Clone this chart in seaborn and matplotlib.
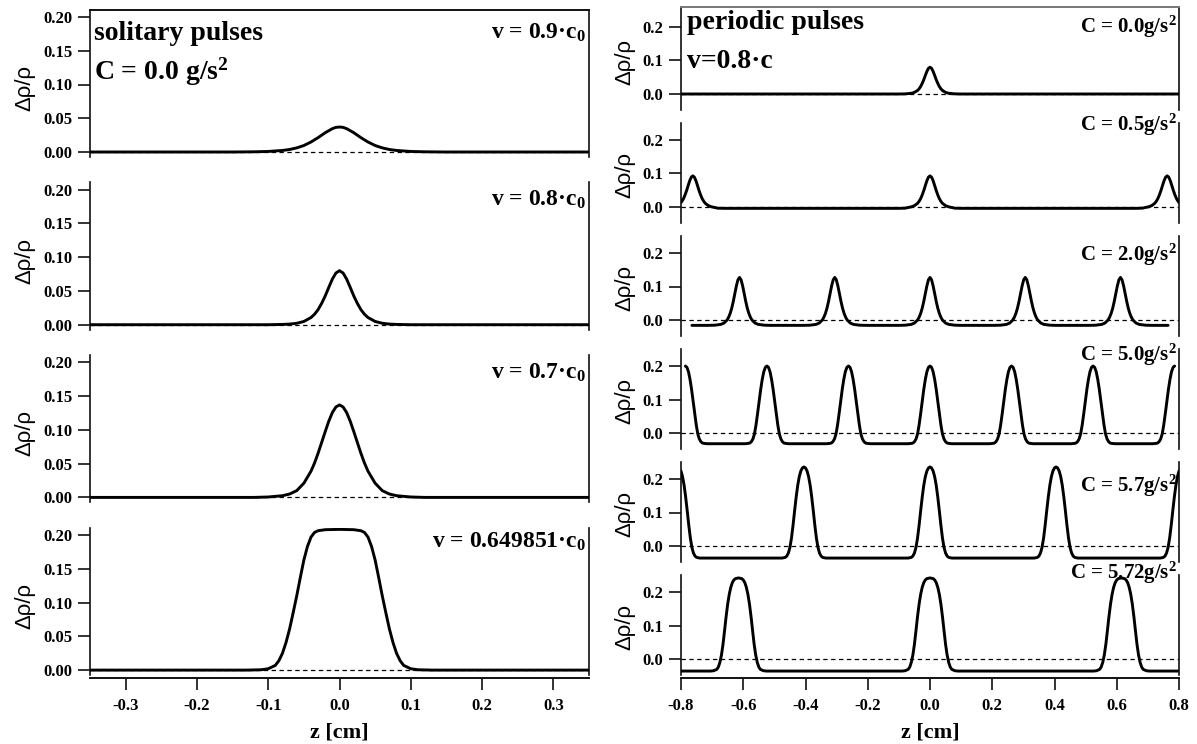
import numpy as np
import matplotlib
matplotlib.use("Agg")
import matplotlib.pyplot as plt
import seaborn as sns

# ---------------- solitary pulses (left column), half profiles -------------
sol_labels = ["v = 0.9·c$_0$", "v = 0.8·c$_0$", "v = 0.7·c$_0$", "v = 0.649851·c$_0$"]
sol_dz_09 = [0, .005, .01, .02, .03, .04, .05, .06, .07, .08, .10, .12, .15]
sol_val_09 = [0.037, 0.0365, 0.0346, 0.0286, 0.0213, 0.0148, 0.0096, 0.0061, 0.0037, 0.0023, 0.0008, 0.0003, 0.0]
sol_dz_08 = [0, .005, .01, .015, .02, .025, .03, .035, .04, .05, .06, .07, .08, .10]
sol_val_08 = [0.080, 0.0766, 0.0676, 0.0554, 0.0427, 0.0317, 0.0224, 0.0155, 0.0106, 0.0048, 0.0021, 0.0009, 0.0004, 0.0]
sol_dz_07 = [0, .005, .01, .015, .02, .025, .03, .035, .04, .05, .06, .07, .08, .10, .12]
sol_val_07 = [0.137, 0.134, 0.1257, 0.113, 0.0976, 0.0815, 0.0655, 0.051, 0.0388, 0.021, 0.010, 0.005, 0.0025,
              0.0006, 0.0]
sol_dz_065 = [0, .02, .03, .035, .04, .045, .05, .055, .06, .065, .07, .075, .08, .085, .09, .10, .11, .13]
sol_val_065 = [0.2085, 0.208, 0.2065, 0.204, 0.197, 0.183, 0.163, 0.137, 0.11, 0.085, 0.061, 0.041,
               0.025, 0.014, 0.007, 0.002, 0.0005, 0.0]
sol_xticks = [-0.3, -0.2, -0.1, 0.0, 0.1, 0.2, 0.3]
sol_xticklabels = ["-0.3", "-0.2", "-0.1", "0.0", "0.1", "0.2", "0.3"]
sol_yticks = [0.00, 0.05, 0.10, 0.15, 0.20]
sol_yticklabels = ["0.00", "0.05", "0.10", "0.15", "0.20"]

# ---------------- periodic pulses (right column) -------------
per_labels = ["C = 0.0g/s$^2$", "C = 0.5g/s$^2$", "C = 2.0g/s$^2$",
              "C = 5.0g/s$^2$", "C = 5.7g/s$^2$", "C = 5.72g/s$^2$"]
per_centres_00 = [0.0]
per_centres_05 = [-0.762, 0.0, 0.762]
per_centres_20 = [-0.612, -0.306, 0.0, 0.306, 0.612]
per_centres_50 = [-0.786, -0.524, -0.262, 0.0, 0.262, 0.524, 0.786]
per_centres_57 = [-0.81, -0.405, 0.0, 0.405, 0.81]
per_centres_572 = [-0.615, 0.0, 0.615]
per_span_00 = (-0.8, 0.8)
per_span_05 = (-0.8, 0.8)
per_span_20 = (-0.765, 0.765)
per_span_50 = (-0.786, 0.786)
per_span_57 = (-0.8, 0.8)
per_span_572 = (-0.8, 0.8)
per_dz_00 = [0, .005, .01, .015, .02, .025, .03, .035, .04, .05, .06, .08, .10]
per_val_00 = [0.080, 0.0766, 0.0676, 0.0554, 0.0427, 0.0317, 0.0224, 0.0155, 0.0106, 0.0048, 0.0021, 0.0004, 0.0]
per_dz_05 = [0, .005, .01, .015, .02, .025, .03, .035, .04, .05, .06, .08, .10]
per_val_05 = [0.093, 0.089, 0.0785, 0.064, 0.049, 0.036, 0.025, 0.017, 0.011, 0.004, 0.0005, -0.0035, -0.004]
per_dz_20 = [0, .005, .01, .015, .02, .025, .03, .035, .04, .05, .06, .08, .10]
per_val_20 = [0.127, 0.120, 0.102, 0.079, 0.0555, 0.0353, 0.0197, 0.0082, -0.0001, -0.0091, -0.0131, -0.0155, -0.016]
per_dz_50 = [0, .005, .01, .015, .02, .025, .03, .035, .04, .045, .05, .055, .06, .07, .08]
per_val_50 = [0.200, 0.196, 0.183, 0.160, 0.130, 0.095, 0.058, 0.024, -0.003, -0.018, -0.026, -0.030, -0.031,
              -0.032, -0.032]
per_dz_57 = [0, .005, .01, .015, .02, .025, .03, .035, .04, .045, .05, .055, .06, .07, .08]
per_val_57 = [0.236, 0.233, 0.224, 0.207, 0.181, 0.146, 0.105, 0.062, 0.024, -0.004, -0.021, -0.030, -0.034,
              -0.036, -0.036]
per_dz_572 = [0, .01, .015, .02, .025, .03, .035, .04, .045, .05, .055, .06, .065, .07, .08, .09]
per_val_572 = [0.242, 0.240, 0.236, 0.228, 0.214, 0.193, 0.164, 0.127, 0.085, 0.044, 0.012, -0.010, -0.024,
               -0.031, -0.035, -0.036]
per_xticks = [-0.8, -0.6, -0.4, -0.2, 0.0, 0.2, 0.4, 0.6, 0.8]
per_xticklabels = ["-0.8", "-0.6", "-0.4", "-0.2", "0.0", "0.2", "0.4", "0.6", "0.8"]
per_yticks = [0.0, 0.1, 0.2]
per_yticklabels = ["0.0", "0.1", "0.2"]

sol_sets = [(sol_dz_09, sol_val_09), (sol_dz_08, sol_val_08), (sol_dz_07, sol_val_07), (sol_dz_065, sol_val_065)]
per_sets = [(per_centres_00, per_dz_00, per_val_00, per_span_00),
            (per_centres_05, per_dz_05, per_val_05, per_span_05),
            (per_centres_20, per_dz_20, per_val_20, per_span_20),
            (per_centres_50, per_dz_50, per_val_50, per_span_50),
            (per_centres_57, per_dz_57, per_val_57, per_span_57),
            (per_centres_572, per_dz_572, per_val_572, per_span_572)]


def pulse_train(centres, dz, val, span):
    dz = np.asarray(dz, float)
    val = np.asarray(val, float)
    fx = np.concatenate([-dz[::-1], dz[1:]])
    fy = np.concatenate([val[::-1], val[1:]])
    xs = np.concatenate([c + fx for c in centres])
    ys = np.tile(fy, len(centres))
    order = np.argsort(xs, kind="stable")
    xs, ys = xs[order], ys[order]
    x0, x1 = span
    y0, y1 = np.interp([x0, x1], xs, ys)
    keep = (xs > x0) & (xs < x1)
    return np.r_[x0, xs[keep], x1], np.r_[y0, ys[keep], y1]


# ---------------- style -------------
sns.set_style("ticks")
plt.rcParams["font.family"] = ["Liberation Serif", "DejaVu Serif"]
plt.rcParams["font.weight"] = "bold"
plt.rcParams["text.color"] = "black"
plt.rcParams["axes.labelcolor"] = "black"
plt.rcParams["mathtext.fontset"] = "custom"
plt.rcParams["mathtext.rm"] = "Liberation Serif:bold"
plt.rcParams["mathtext.it"] = "Liberation Serif:italic:bold"
plt.rcParams["mathtext.bf"] = "Liberation Serif:bold"
plt.rcParams["mathtext.default"] = "rm"

W, H = 1197, 744
fig = plt.figure(figsize=(W / 100, H / 100), dpi=100)
fig.patch.set_facecolor("white")


def rect(l, t, w, h):
    return [l / W, 1 - (t + h) / H, w / W, h / H]


SPINE_C = "#111111"
TICK_FS = 12
LAB_FS = 16
LINE_W = 2.1


def style_axes(ax, first, last, top_color):
    for s in ["left", "right"]:
        ax.spines[s].set_visible(True)
        ax.spines[s].set_linewidth(1.2)
        ax.spines[s].set_color(SPINE_C)
    ax.spines["top"].set_visible(first)
    ax.spines["top"].set_linewidth(1.4)
    ax.spines["top"].set_color(top_color)
    ax.spines["bottom"].set_visible(last)
    ax.spines["bottom"].set_linewidth(1.4)
    ax.spines["bottom"].set_color(SPINE_C)
    ax.spines["bottom"].set_position(("outward", 2.2))
    ax.tick_params(axis="y", which="both", direction="out", length=8.6, width=1.2, pad=4,
                   labelsize=TICK_FS, color=SPINE_C, labelcolor="black", left=True, right=False)
    ax.tick_params(axis="x", which="both", direction="out", length=8.6, width=1.2, pad=6,
                   labelsize=TICK_FS, color=SPINE_C, labelcolor="black", bottom=last,
                   labelbottom=last, top=False)
    ax.set_facecolor("white")
    ax.grid(False)


# ---------------- left column -------------
L_LEFT, L_W = 90, 499
for i, (dz, val) in enumerate(sol_sets):
    zero = 152 + 172.7 * i
    ylo, yhi = -0.0074, 0.211
    top = zero - yhi * 675
    ax = fig.add_axes(rect(L_LEFT, top, L_W, (yhi - ylo) * 675))
    ax.axhline(0, color="black", lw=0.9, ls=(0, (3.5, 2.8)), zorder=1)
    xs, ys = pulse_train([0.0], dz, val, (-0.35, 0.35))
    sns.lineplot(x=xs, y=ys, ax=ax, color="black", linewidth=LINE_W, sort=False, estimator=None, zorder=3)
    ax.set_xlim(-0.35, 0.35)
    ax.set_ylim(ylo, yhi)
    ax.set_yticks(sol_yticks)
    ax.set_yticklabels(sol_yticklabels, fontweight="bold")
    ax.set_xticks(sol_xticks)
    last = i == len(sol_sets) - 1
    ax.set_xticklabels(sol_xticklabels if last else [], fontweight="bold")
    style_axes(ax, i == 0, last, SPINE_C)
    ax.set_ylabel("Δρ/ρ", family=["Liberation Sans", "DejaVu Sans"], fontweight="normal",
                  fontsize=LAB_FS, va="center", color="black")
    ax.yaxis.set_label_coords(-0.130, (0.095 - ylo) / (yhi - ylo))
    lab_y = [0.176, 0.185, 0.185, 0.19][i]
    ax.text(0.345, lab_y, sol_labels[i], ha="right", va="center", fontsize=17, fontweight="bold")
    if i == 0:
        ax.text(0.008, 0.84, "solitary pulses", transform=ax.transAxes, ha="left", va="center",
                fontsize=20, fontweight="bold")
        ax.text(0.008, 0.58, "C = 0.0 g/s$^2$", transform=ax.transAxes, ha="left", va="center",
                fontsize=20, fontweight="bold")
    if last:
        ax.set_xlabel("z [cm]", fontsize=16, fontweight="bold", va="center", color="black")
        ax.xaxis.set_label_coords(0.5, (675 - 732) / ((yhi - ylo) * 675))

# ---------------- right column -------------
R_LEFT, R_W = 681, 498
per_lab_y = [0.20, 0.245, 0.194, 0.233, 0.18, 0.257]
for j, (centres, dz, val, span) in enumerate(per_sets):
    zero = 94 + 113 * j
    ylo = -0.048
    yhi = 0.26 if j == 0 else 0.25
    top = zero - yhi * 335
    ax = fig.add_axes(rect(R_LEFT, top, R_W, (yhi - ylo) * 335))
    ax.axhline(0, color="black", lw=0.9, ls=(0, (3.5, 2.8)), zorder=1)
    xs, ys = pulse_train(centres, dz, val, span)
    sns.lineplot(x=xs, y=ys, ax=ax, color="black", linewidth=LINE_W, sort=False, estimator=None, zorder=3)
    ax.set_xlim(-0.8, 0.8)
    ax.set_ylim(ylo, yhi)
    ax.set_yticks(per_yticks)
    ax.set_yticklabels(per_yticklabels, fontweight="bold")
    ax.set_xticks(per_xticks)
    last = j == len(per_sets) - 1
    ax.set_xticklabels(per_xticklabels if last else [], fontweight="bold")
    style_axes(ax, j == 0, last, "#777777")
    ax.set_ylabel("Δρ/ρ", family=["Liberation Sans", "DejaVu Sans"], fontweight="normal",
                  fontsize=LAB_FS, va="center", color="black")
    ax.yaxis.set_label_coords(-0.112, (0.095 - ylo) / (yhi - ylo))
    ax.text(0.792, per_lab_y[j], per_labels[j], ha="right", va="center", fontsize=15,
            fontweight="bold", clip_on=False, zorder=5)
    if j == 0:
        ax.text(0.012, 0.845, "periodic pulses", transform=ax.transAxes, ha="left", va="center",
                fontsize=20, fontweight="bold")
        ax.text(0.012, 0.466, "v=0.8·c", transform=ax.transAxes, ha="left", va="center",
                fontsize=20, fontweight="bold")
    if last:
        ax.set_xlabel("z [cm]", fontsize=16, fontweight="bold", va="center", color="black")
        ax.xaxis.set_label_coords(0.5, (675 - 732) / ((yhi - ylo) * 335))

fig.savefig("out.png", dpi=100, facecolor="white")
